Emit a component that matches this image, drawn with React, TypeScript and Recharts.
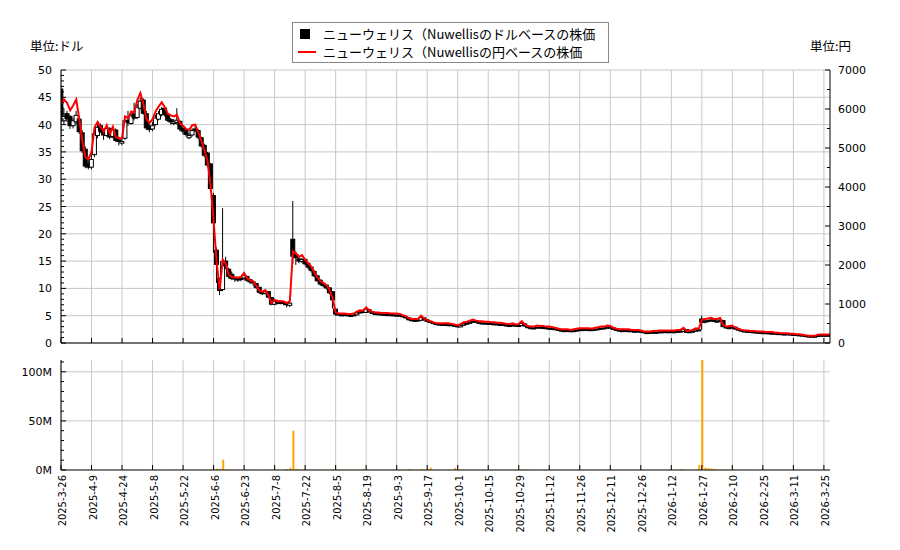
import React from 'react';
import { ComposedChart, Bar, Line, XAxis, YAxis, CartesianGrid } from 'recharts';

// x-axis ticks (trading-day index) and their labels
const tickIdx = [0, 10, 20, 30, 40, 50, 60, 70, 80, 90, 100, 110, 120, 130, 140, 150, 160, 170, 180, 190, 200, 210, 220, 230, 240, 250];
const tickLabels = [
  '2025-3-26', '2025-4-9', '2025-4-24', '2025-5-8', '2025-5-22', '2025-6-6', '2025-6-23', '2025-7-8', '2025-7-22',
  '2025-8-5', '2025-8-19', '2025-9-3', '2025-9-17', '2025-10-1', '2025-10-15', '2025-10-29', '2025-11-12',
  '2025-11-26', '2025-12-11', '2025-12-26', '2026-1-12', '2026-1-27', '2026-2-10', '2026-2-25', '2026-3-11', '2026-3-25',
];

// USD OHLC
const open = [
  46.5, 40.7, 42.0, 41.5, 39.8, 40.5, 41.0, 38.5, 35.5, 32.8,
  32.2, 34.5, 38.0, 39.8, 38.8, 38.0, 39.3, 37.8, 39.0, 37.2,
  36.6, 37.5, 40.8, 40.2, 42.0, 41.3, 43.0, 44.5, 42.0, 39.6,
  39.2, 40.0, 41.0, 41.8, 43.0, 41.8, 40.9, 40.2, 40.4, 40.6,
  39.3, 38.9, 37.6, 38.1, 39.2, 38.9, 37.6, 36.2, 34.8, 32.8,
  27.0, 17.0, 11.8, 9.8, 15.0, 13.5, 12.6, 12.0, 11.6, 11.7,
  11.9, 12.2, 11.6, 11.2, 10.9, 10.2, 9.2, 9.1, 9.4, 8.3,
  7.1, 7.7, 7.3, 7.5, 7.3, 6.9, 19.0, 16.2, 15.4, 14.9,
  15.3, 14.6, 13.9, 13.1, 12.3, 11.5, 10.8, 10.6, 10.1, 9.4,
  6.2, 5.3, 5.1, 5.2, 5.15, 5.0, 5.05, 5.15, 5.5, 5.75,
  5.6, 6.1, 5.7, 5.4, 5.35, 5.3, 5.25, 5.15, 5.2, 5.15,
  5.05, 5.1, 5.0, 4.8, 4.6, 4.25, 4.1, 4.2, 4.15, 4.6,
  4.25, 3.95, 3.75, 3.55, 3.45, 3.35, 3.4, 3.3, 3.35, 3.25,
  3.15, 2.95, 3.25, 3.5, 3.6, 3.8, 4.0, 3.8, 3.6, 3.65,
  3.55, 3.6, 3.45, 3.5, 3.35, 3.4, 3.3, 3.15, 3.2, 3.3,
  3.1, 3.2, 3.5, 3.1, 2.8, 2.7, 2.75, 2.9, 2.85, 2.8,
  2.65, 2.7, 2.6, 2.5, 2.35, 2.2, 2.3, 2.25, 2.15, 2.25,
  2.35, 2.4, 2.5, 2.4, 2.45, 2.35, 2.5, 2.6, 2.75, 2.7,
  2.9, 2.8, 2.5, 2.35, 2.2, 2.3, 2.2, 2.25, 2.1, 2.2,
  2.15, 2.05, 1.85, 1.95, 1.9, 1.9, 1.95, 2.0, 2.1, 2.0,
  2.1, 2.0, 2.05, 2.1, 2.15, 2.45, 1.95, 2.05, 2.15, 2.4,
  4.4, 3.8, 4.0, 4.1, 4.2, 3.9, 4.0, 4.1, 3.0, 2.75,
  2.8, 2.9, 2.55, 2.35, 2.2, 2.15, 2.1, 2.05, 2.0, 1.95,
  1.85, 1.9, 1.85, 1.75, 1.8, 1.7, 1.72, 1.6, 1.68, 1.64,
  1.58, 1.55, 1.48, 1.45, 1.36, 1.27, 1.25, 1.2, 1.23, 1.36,
  1.38, 1.43, 1.4,
];
const high = [
  47.2, 43.0, 42.5, 41.8, 41.2, 42.5, 41.5, 39.0, 36.0, 33.5,
  34.5, 39.5, 40.5, 40.2, 39.3, 39.8, 39.5, 39.5, 39.3, 37.8,
  37.5, 41.0, 42.5, 42.2, 44.0, 43.8, 45.0, 44.8, 42.5, 40.3,
  40.5, 41.8, 42.5, 43.2, 43.5, 42.0, 41.2, 41.0, 43.0, 40.8,
  39.8, 39.2, 38.5, 39.3, 39.8, 39.2, 37.8, 36.5, 35.0, 33.0,
  27.5, 17.5, 12.0, 24.7, 15.8, 13.8, 13.1, 12.3, 12.0, 12.1,
  12.9, 12.3, 11.8, 11.4, 11.0, 10.3, 9.5, 9.7, 9.5, 8.4,
  7.9, 7.9, 7.7, 7.6, 7.4, 7.7, 26.0, 16.8, 15.8, 15.6,
  15.5, 14.8, 14.0, 13.4, 12.5, 11.7, 11.2, 10.8, 10.2, 9.5,
  6.3, 5.4, 5.3, 5.3, 5.25, 5.15, 5.25, 5.6, 5.85, 5.85,
  6.4, 6.2, 5.8, 5.5, 5.45, 5.4, 5.35, 5.3, 5.3, 5.25,
  5.2, 5.2, 5.05, 4.85, 4.65, 4.35, 4.25, 4.3, 4.85, 4.65,
  4.3, 4.0, 3.8, 3.6, 3.5, 3.45, 3.45, 3.4, 3.4, 3.3,
  3.2, 3.3, 3.55, 3.7, 3.9, 4.1, 4.05, 3.85, 3.7, 3.7,
  3.65, 3.65, 3.55, 3.55, 3.45, 3.45, 3.35, 3.25, 3.35, 3.35,
  3.25, 3.75, 3.55, 3.15, 2.85, 2.8, 2.95, 2.95, 2.9, 2.85,
  2.75, 2.75, 2.65, 2.55, 2.4, 2.3, 2.35, 2.3, 2.3, 2.4,
  2.5, 2.5, 2.55, 2.5, 2.5, 2.55, 2.65, 2.75, 2.8, 2.95,
  2.95, 2.85, 2.55, 2.4, 2.3, 2.35, 2.3, 2.3, 2.2, 2.25,
  2.2, 2.1, 1.95, 2.0, 2.0, 2.0, 2.1, 2.1, 2.15, 2.1,
  2.15, 2.1, 2.2, 2.2, 2.6, 2.5, 2.1, 2.2, 2.45, 2.5,
  5.0, 4.3, 4.3, 4.4, 4.3, 4.1, 4.4, 4.2, 3.1, 2.9,
  2.95, 2.95, 2.6, 2.4, 2.25, 2.2, 2.15, 2.1, 2.05, 2.0,
  1.95, 1.95, 1.9, 1.85, 1.85, 1.78, 1.76, 1.68, 1.72, 1.68,
  1.62, 1.6, 1.52, 1.5, 1.4, 1.3, 1.28, 1.26, 1.4, 1.45,
  1.45, 1.46, 1.44,
];
const low = [
  37.8, 40.0, 40.5, 39.2, 39.3, 40.0, 38.3, 34.8, 32.0, 31.8,
  31.8, 34.0, 37.5, 38.5, 37.2, 37.8, 37.3, 37.5, 36.8, 36.2,
  36.2, 37.2, 39.8, 40.0, 40.8, 41.0, 42.8, 41.8, 39.0, 38.6,
  38.8, 39.8, 40.8, 41.5, 41.5, 40.5, 40.0, 39.9, 40.0, 38.8,
  38.2, 37.8, 37.3, 37.8, 38.6, 37.3, 35.8, 34.0, 32.2, 28.0,
  16.5, 11.0, 8.8, 9.5, 13.5, 11.8, 11.5, 11.2, 11.2, 11.3,
  11.6, 11.2, 10.8, 10.5, 9.9, 9.0, 8.8, 8.9, 8.2, 6.9,
  6.9, 7.1, 7.1, 6.9, 6.5, 6.6, 14.5, 14.3, 14.6, 14.7,
  14.2, 13.5, 12.9, 12.0, 11.2, 10.5, 10.2, 9.8, 8.9, 6.3,
  5.0, 5.05, 5.0, 5.05, 4.95, 4.9, 4.95, 5.1, 5.4, 5.5,
  5.5, 5.6, 5.3, 5.2, 5.2, 5.1, 5.1, 5.05, 5.0, 5.0,
  4.95, 4.9, 4.7, 4.5, 4.15, 4.05, 4.0, 4.05, 4.1, 4.15,
  3.85, 3.65, 3.45, 3.3, 3.3, 3.25, 3.25, 3.2, 3.15, 3.05,
  2.85, 2.9, 3.2, 3.4, 3.5, 3.7, 3.7, 3.55, 3.5, 3.5,
  3.45, 3.4, 3.4, 3.3, 3.3, 3.2, 3.1, 3.05, 3.1, 3.0,
  3.0, 3.1, 3.0, 2.7, 2.65, 2.6, 2.65, 2.7, 2.7, 2.6,
  2.55, 2.5, 2.4, 2.25, 2.15, 2.1, 2.15, 2.05, 2.05, 2.15,
  2.25, 2.3, 2.35, 2.3, 2.25, 2.25, 2.4, 2.5, 2.6, 2.6,
  2.7, 2.45, 2.25, 2.15, 2.1, 2.15, 2.15, 2.05, 2.0, 2.05,
  1.95, 1.8, 1.75, 1.8, 1.8, 1.8, 1.85, 1.9, 1.95, 1.9,
  1.95, 1.9, 1.95, 2.0, 2.05, 1.85, 1.85, 1.95, 2.05, 2.2,
  2.4, 3.6, 3.8, 3.9, 3.8, 3.7, 3.8, 2.9, 2.65, 2.6,
  2.7, 2.45, 2.25, 2.1, 2.0, 2.0, 1.9, 1.9, 1.8, 1.8,
  1.75, 1.7, 1.7, 1.65, 1.62, 1.62, 1.55, 1.52, 1.56, 1.5,
  1.48, 1.4, 1.38, 1.3, 1.2, 1.16, 1.16, 1.14, 1.18, 1.3,
  1.32, 1.35, 1.34,
];
const close = [
  40.7, 41.5, 41.1, 39.8, 40.7, 41.7, 38.7, 35.2, 32.4, 32.2,
  33.6, 38.3, 39.5, 38.8, 38.1, 39.3, 37.7, 39.0, 37.1, 36.9,
  36.9, 40.7, 40.4, 41.6, 41.2, 43.2, 44.3, 42.1, 39.4, 39.1,
  39.8, 41.2, 42.0, 42.8, 41.9, 40.8, 40.5, 40.5, 40.8, 39.2,
  38.8, 38.2, 38.0, 38.9, 39.0, 37.7, 36.1, 34.4, 32.6, 28.3,
  22.0, 14.4, 9.6, 14.9, 14.1, 12.2, 11.8, 11.7, 11.7, 11.8,
  12.4, 11.5, 11.2, 11.0, 10.2, 9.3, 9.1, 9.4, 8.4, 7.1,
  7.6, 7.3, 7.4, 7.3, 7.0, 7.3, 15.9, 15.6, 15.0, 15.3,
  14.5, 13.9, 13.3, 12.3, 11.4, 10.8, 10.5, 10.1, 9.2, 7.9,
  5.3, 5.15, 5.15, 5.15, 5.05, 5.05, 5.15, 5.5, 5.7, 5.6,
  6.2, 5.7, 5.4, 5.3, 5.3, 5.2, 5.2, 5.2, 5.1, 5.1,
  5.1, 5.0, 4.8, 4.6, 4.25, 4.15, 4.15, 4.15, 4.7, 4.25,
  3.95, 3.75, 3.55, 3.4, 3.4, 3.4, 3.35, 3.35, 3.25, 3.15,
  2.95, 3.25, 3.5, 3.6, 3.8, 4.0, 3.8, 3.65, 3.65, 3.6,
  3.6, 3.5, 3.5, 3.4, 3.4, 3.3, 3.2, 3.2, 3.3, 3.1,
  3.2, 3.6, 3.1, 2.8, 2.75, 2.75, 2.9, 2.8, 2.8, 2.7,
  2.7, 2.6, 2.5, 2.35, 2.25, 2.25, 2.25, 2.15, 2.25, 2.35,
  2.45, 2.45, 2.45, 2.45, 2.35, 2.5, 2.6, 2.7, 2.7, 2.9,
  2.8, 2.5, 2.35, 2.25, 2.25, 2.25, 2.25, 2.15, 2.15, 2.15,
  2.05, 1.9, 1.9, 1.9, 1.95, 1.95, 2.05, 2.05, 2.05, 2.05,
  2.05, 2.05, 2.15, 2.15, 2.5, 1.95, 2.05, 2.15, 2.4, 2.35,
  3.8, 4.0, 4.1, 4.2, 4.0, 4.0, 4.2, 3.0, 2.75, 2.8,
  2.9, 2.55, 2.35, 2.2, 2.1, 2.1, 2.0, 2.0, 1.9, 1.9,
  1.9, 1.8, 1.8, 1.8, 1.72, 1.72, 1.64, 1.64, 1.64, 1.55,
  1.55, 1.45, 1.45, 1.36, 1.27, 1.23, 1.23, 1.23, 1.36, 1.41,
  1.41, 1.41, 1.41,
];

// JPY price
const yen = [
  6132, 6244, 6160, 5964, 6090, 6244, 5740, 5180, 4760, 4718,
  4900, 5530, 5670, 5544, 5418, 5586, 5362, 5544, 5278, 5250,
  5250, 5810, 5768, 5936, 5908, 6230, 6412, 6132, 5740, 5642,
  5740, 5936, 6062, 6174, 6048, 5880, 5838, 5810, 5852, 5628,
  5572, 5488, 5460, 5586, 5600, 5404, 5180, 4942, 4676, 4060,
  3150, 2072, 1372, 2142, 2030, 1750, 1694, 1680, 1680, 1694,
  1792, 1652, 1610, 1582, 1470, 1344, 1316, 1358, 1218, 1022,
  1106, 1064, 1078, 1064, 1022, 1078, 2352, 2296, 2212, 2254,
  2128, 2044, 1960, 1806, 1680, 1582, 1540, 1484, 1358, 1162,
  784, 756, 756, 756, 742, 742, 756, 812, 840, 826,
  910, 840, 798, 784, 784, 770, 770, 770, 756, 756,
  756, 742, 714, 686, 630, 616, 616, 616, 700, 630,
  588, 560, 532, 504, 504, 504, 504, 504, 490, 476,
  448, 490, 532, 546, 574, 602, 574, 560, 560, 546,
  546, 532, 532, 518, 518, 504, 490, 490, 504, 476,
  490, 560, 476, 434, 420, 420, 448, 434, 434, 420,
  420, 406, 392, 364, 350, 350, 350, 336, 350, 364,
  378, 378, 378, 378, 364, 392, 406, 420, 420, 448,
  434, 392, 364, 350, 350, 350, 350, 336, 336, 336,
  322, 294, 294, 294, 308, 308, 322, 322, 322, 322,
  322, 322, 336, 336, 392, 308, 322, 336, 378, 364,
  588, 616, 630, 644, 616, 616, 644, 462, 420, 434,
  448, 392, 364, 336, 322, 322, 308, 308, 294, 294,
  294, 280, 280, 280, 266, 266, 252, 252, 252, 238,
  238, 224, 224, 210, 196, 189, 189, 189, 210, 217,
  217, 217, 217,
];

// volume (millions of shares)
const volume = [
  0.3, 0.2, 0.2, 0.2, 0.1, 0.2, 0.2, 0.3, 0.3, 0.2,
  0.2, 0.3, 0.2, 0.1, 0.1, 0.1, 0.1, 0.1, 0.1, 0.1,
  0.1, 0.2, 0.2, 0.1, 0.1, 0.2, 0.2, 0.2, 0.1, 0.1,
  0.1, 0.1, 0.1, 0.1, 0.1, 0.1, 0.1, 0.1, 0.1, 0.1,
  0.1, 0.1, 0.1, 0.1, 0.1, 0.1, 0.2, 0.2, 0.3, 0.5,
  0.8, 1.2, 1.2, 10.5, 0.6, 0.3, 0.2, 0.2, 0.1, 0.1,
  0.1, 0.1, 0.1, 0.1, 0.1, 0.1, 0.1, 0.1, 0.1, 0.2,
  0.1, 0.1, 0.1, 0.2, 1.0, 2.0, 40.0, 1.0, 0.4, 0.3,
  0.2, 0.2, 0.2, 0.2, 0.2, 0.2, 0.2, 0.2, 0.3, 0.5,
  1.0, 0.4, 0.2, 0.2, 0.1, 0.1, 0.1, 0.2, 0.3, 0.8,
  0.4, 0.2, 0.1, 0.1, 0.1, 0.1, 0.1, 0.1, 0.1, 0.1,
  0.1, 0.1, 0.2, 0.3, 1.0, 0.3, 0.2, 0.2, 1.0, 0.4,
  0.3, 2.4, 0.3, 0.2, 0.1, 0.1, 0.1, 0.1, 0.2, 2.0,
  0.5, 0.3, 0.3, 0.2, 0.3, 0.3, 0.2, 0.1, 0.1, 0.1,
  0.1, 0.1, 0.1, 0.1, 0.1, 0.1, 0.1, 0.1, 0.1, 0.1,
  0.2, 0.8, 0.3, 0.2, 0.1, 0.1, 0.1, 0.1, 0.1, 0.1,
  0.1, 0.1, 0.1, 0.1, 0.1, 0.1, 0.1, 0.1, 0.1, 0.1,
  0.1, 0.1, 0.1, 0.1, 0.1, 0.1, 0.1, 0.1, 0.1, 0.1,
  0.1, 0.1, 0.1, 0.1, 0.1, 0.1, 0.1, 0.1, 0.1, 0.1,
  0.1, 0.1, 0.1, 0.1, 0.1, 0.1, 0.1, 0.1, 0.1, 0.1,
  0.1, 0.1, 0.1, 0.8, 0.5, 0.2, 0.1, 0.1, 0.3, 5.0,
  115, 2.4, 2.0, 1.3, 1.3, 0.5, 0.3, 0.5, 0.3, 0.2,
  0.2, 0.2, 0.1, 0.1, 0.1, 0.1, 0.1, 0.1, 0.1, 0.1,
  0.1, 0.1, 0.1, 0.1, 0.1, 0.1, 0.1, 0.1, 0.1, 0.1,
  0.1, 0.1, 0.1, 0.1, 0.1, 0.1, 0.1, 0.1, 0.1, 0.1,
  0.1, 0.1, 0.1,
];

const usdTicks = Array.from({ length: 51 }, (_, k) => k);
const usdGrid = [0, 5, 10, 15, 20, 25, 30, 35, 40, 45, 50];
const jpyTicks = Array.from({ length: 15 }, (_, k) => k * 500);
const volTicks = Array.from({ length: 12 }, (_, k) => k * 10);
const volGrid = [50, 100];

const data = close.map((c, i) => ({
  i,
  o: open[i],
  h: high[i],
  l: low[i],
  c,
  range: [low[i], high[i]],
  yen: yen[i],
  vol: volume[i],
}));

const AXIS_FONT = '"DejaVu Sans", sans-serif';

const Candle = (props: any) => {
  const { x, y, width, height, payload } = props;
  if (x == null || y == null || !payload) return null;
  const cx = x + width / 2;
  const top = Math.min(y, y + height);
  const h = Math.abs(height);
  const span = payload.h - payload.l;
  const ppu = span > 0 ? h / span : 0;
  const yO = top + (payload.h - payload.o) * ppu;
  const yC = top + (payload.h - payload.c) * ppu;
  const down = payload.c < payload.o;
  const bTop = Math.min(yO, yC);
  const bH = Math.max(1, Math.abs(yO - yC));
  return (
    <g>
      <line x1={cx} x2={cx} y1={top} y2={top + h} stroke="#000" strokeWidth={1} />
      <rect x={cx - 2} y={bTop} width={4} height={bH} fill={down ? '#000' : '#fff'} stroke="#000" strokeWidth={1} />
    </g>
  );
};

const LeftTick = (props: any) => {
  const { x, y, payload } = props;
  const v = payload.value;
  const major = v % 5 === 0;
  return (
    <g>
      <line x1={x} x2={x + (major ? 5 : 3)} y1={y} y2={y} stroke="#000" />
      {major && (
        <text x={x - 9} y={y + 4} textAnchor="end" fontSize={11} fontFamily={AXIS_FONT} fill="#000">
          {v}
        </text>
      )}
    </g>
  );
};

const RightTick = (props: any) => {
  const { x, y, payload } = props;
  const v = payload.value;
  const major = v % 1000 === 0;
  return (
    <g>
      <line x1={x} x2={x - (major ? 5 : 3)} y1={y} y2={y} stroke="#000" />
      {major && (
        <text x={x + 8} y={y + 4} textAnchor="start" fontSize={11} fontFamily={AXIS_FONT} fill="#000">
          {v}
        </text>
      )}
    </g>
  );
};

const VolTick = (props: any) => {
  const { x, y, payload } = props;
  const v = payload.value;
  const major = v % 50 === 0;
  return (
    <g>
      <line x1={x} x2={x + (major ? 5 : 3)} y1={y} y2={y} stroke="#000" />
      {major && (
        <text x={x - 9} y={y + 4} textAnchor="end" fontSize={11} fontFamily={AXIS_FONT} fill="#000">
          {`${v}M`}
        </text>
      )}
    </g>
  );
};

const InnerXTick = (props: any) => {
  const { x, y } = props;
  return <line x1={x} x2={x} y1={y} y2={y - 5} stroke="#000" />;
};

const DateTick = (props: any) => {
  const { x, y, payload } = props;
  const k = tickIdx.indexOf(payload.value);
  const label = k >= 0 ? tickLabels[k] : '';
  let len = 0;
  for (const ch of label) len += ch === '-' ? 3.6 : 6.3;
  const tx = x + 5;
  const ty = y + 5;
  return (
    <g>
      <line x1={x} x2={x} y1={y} y2={y - 5} stroke="#000" />
      <text
        x={tx}
        y={ty}
        transform={`rotate(-90 ${tx} ${ty})`}
        textAnchor="end"
        fontSize={11}
        fontFamily='"DejaVu Sans Condensed", "DejaVu Sans", sans-serif'
        textLength={len}
        lengthAdjust="spacingAndGlyphs"
        fill="#000"
      >
        {label}
      </text>
    </g>
  );
};

const CJK = '"Noto Sans CJK JP", "Noto Sans", sans-serif';

export default function App() {
  return (
    <div style={{ position: 'absolute', left: 0, top: 0, width: 900, height: 550, background: '#fff', overflow: 'hidden' }}>
      <div style={{ position: 'absolute', left: 0, top: 0 }}>
        <ComposedChart width={900} height={350} data={data} margin={{ top: 70, right: 69, bottom: 6, left: 60 }}>
          <CartesianGrid
            yAxisId="left"
            stroke="#c8c8c8"
            strokeWidth={1}
            horizontalValues={usdGrid}
            verticalValues={tickIdx}
          />
          <XAxis
            dataKey="i"
            type="number"
            domain={[0, 252]}
            ticks={tickIdx}
            interval={0}
            height={1}
            tickSize={0}
            tickMargin={0}
            tick={<InnerXTick />}
            axisLine={{ stroke: '#000' }}
            tickLine={false}
            allowDataOverflow
          />
          <YAxis
            yAxisId="left"
            orientation="left"
            width={1}
            domain={[0, 50]}
            ticks={usdTicks}
            interval={0}
            tickSize={0}
            tickMargin={0}
            tick={<LeftTick />}
            tickLine={false}
            axisLine={{ stroke: '#000' }}
            allowDataOverflow
          />
          <YAxis
            yAxisId="right"
            orientation="right"
            width={1}
            domain={[0, 7000]}
            ticks={jpyTicks}
            interval={0}
            tickSize={0}
            tickMargin={0}
            tick={<RightTick />}
            tickLine={false}
            axisLine={{ stroke: '#000' }}
            allowDataOverflow
          />
          <Bar yAxisId="left" dataKey="range" barSize={5} shape={<Candle />} isAnimationActive={false} />
          <Line
            yAxisId="right"
            type="linear"
            dataKey="yen"
            stroke="#ff0000"
            strokeWidth={2}
            dot={false}
            activeDot={false}
            isAnimationActive={false}
          />
        </ComposedChart>
      </div>
      <div style={{ position: 'absolute', left: 0, top: 350 }}>
        <ComposedChart width={900} height={200} data={data} margin={{ top: 10, right: 70, bottom: 0, left: 60 }}>
          <CartesianGrid stroke="#c8c8c8" strokeWidth={1} horizontalValues={volGrid} verticalValues={tickIdx} />
          <XAxis
            dataKey="i"
            type="number"
            domain={[0, 252]}
            ticks={tickIdx}
            interval={0}
            height={80}
            tickSize={0}
            tickMargin={0}
            tick={<DateTick />}
            tickLine={false}
            axisLine={{ stroke: '#000' }}
            allowDataOverflow
          />
          <YAxis
            orientation="left"
            width={1}
            domain={[0, 112]}
            ticks={volTicks}
            interval={0}
            tickSize={0}
            tickMargin={0}
            tick={<VolTick />}
            tickLine={false}
            axisLine={{ stroke: '#000' }}
            allowDataOverflow
          />
          <Bar dataKey="vol" fill="#ffa500" barSize={2} isAnimationActive={false} />
        </ComposedChart>
      </div>

      <div style={{ position: 'absolute', left: 30, top: 39, fontFamily: CJK, fontSize: 12.5, lineHeight: '14px', color: '#000', whiteSpace: 'nowrap' }}>
        単位:ドル
      </div>
      <div style={{ position: 'absolute', left: 810, top: 39, fontFamily: CJK, fontSize: 12.5, lineHeight: '14px', color: '#000', whiteSpace: 'nowrap' }}>
        単位:円
      </div>

      <div
        style={{
          position: 'absolute',
          left: 292,
          top: 22,
          width: 315,
          height: 39,
          border: '1px solid #888',
          background: '#fff',
          fontFamily: CJK,
          fontSize: 13,
          color: '#000',
        }}
      >
        <div style={{ position: 'absolute', left: 7, top: 6, width: 10, height: 10, background: '#000' }} />
        <div style={{ position: 'absolute', left: 30, top: 2, lineHeight: '18px', whiteSpace: 'nowrap' }}>
          ニューウェリス（Nuwellisのドルベースの株価
        </div>
        <div style={{ position: 'absolute', left: 5, top: 28, width: 18, height: 2, background: '#ff0000' }} />
        <div style={{ position: 'absolute', left: 30, top: 20, lineHeight: '18px', whiteSpace: 'nowrap' }}>
          ニューウェリス（Nuwellisの円ベースの株価
        </div>
      </div>
    </div>
  );
}
